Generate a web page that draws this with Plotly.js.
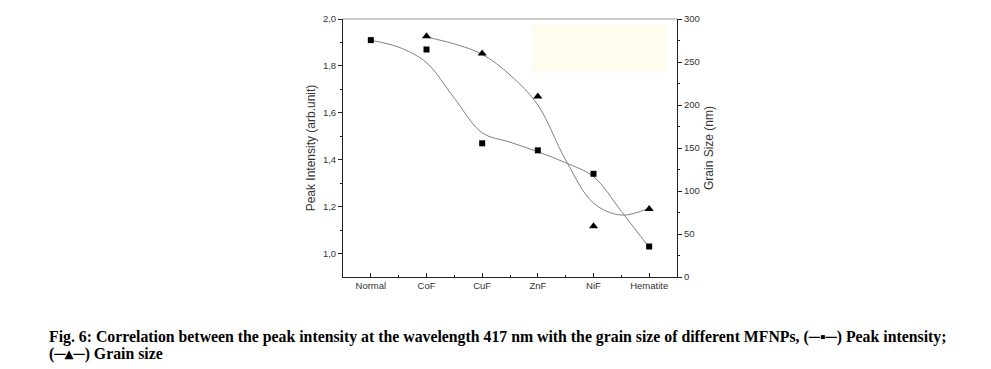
<!DOCTYPE html>
<html>
<head>
<meta charset="utf-8">
<script src="https://cdn.plot.ly/plotly-3.0.1.min.js"></script>
<style>
html,body{margin:0;padding:0;background:#fff;}
#chart{width:991px;height:369px;}
</style>
</head>
<body>
<div id="chart"></div>
<script>
// ---- data ----
var categories = ["Normal", "CoF", "CuF", "ZnF", "NiF", "Hematite"];
var peakIntensity = [1.91, 1.87, 1.47, 1.44, 1.34, 1.03];
var grainSize = [null, 280, 260, 210, 59, 79];
// smoothed curves as drawn in the figure (read at half-category steps)
var intensityFitX = [0, 0.5, 1, 1.5, 2, 2.5, 3, 3.5, 4, 4.5, 5];
var intensityFit  = [1.909, 1.880, 1.814, 1.662, 1.515, 1.475, 1.434, 1.387, 1.328, 1.180, 1.026];
var grainFitX = [1, 1.5, 2, 2.5, 3, 3.5, 4, 4.5, 5];
var grainFit  = [279, 271, 259, 235, 200, 136, 86, 72, 80];
var leftTicks = [1.0, 1.2, 1.4, 1.6, 1.8, 2.0];
var rightTicks = [0, 50, 100, 150, 200, 250, 300];

var idx = categories.map(function(c, i){ return i; });

var traces = [
  {x: intensityFitX, y: intensityFit, mode: 'lines', line: {color: '#808080', width: 1, shape: 'spline', smoothing: 1}, yaxis: 'y', hoverinfo: 'skip'},
  {x: grainFitX, y: grainFit, mode: 'lines', line: {color: '#808080', width: 1, shape: 'spline', smoothing: 1}, yaxis: 'y2', hoverinfo: 'skip'},
  {x: idx, y: peakIntensity, mode: 'markers', marker: {symbol: 'square', size: 6, color: '#000'}, yaxis: 'y'},
  {x: idx, y: grainSize, mode: 'markers', marker: {symbol: 'triangle-up', size: 8, color: '#000'}, yaxis: 'y2'}
];

var tickFont = {family: 'Arial, Liberation Sans, sans-serif', size: 9.5, color: '#333'};
var titleFont = {family: 'Arial, Liberation Sans, sans-serif', size: 12, color: '#333'};

var layout = {
  width: 991, height: 369,
  margin: {l: 343, r: 314, t: 19, b: 92, pad: 0},
  paper_bgcolor: '#fff', plot_bgcolor: '#fff',
  showlegend: false,
  separators: ', ',
  xaxis: {
    range: [-0.5, 5.5], tickmode: 'array', tickvals: idx, ticktext: categories,
    ticks: 'inside', ticklen: 4, tickcolor: '#222', tickwidth: 1,
    minor: {tickmode: 'array', tickvals: [0.5, 1.5, 2.5, 3.5, 4.5], ticks: 'inside', ticklen: 2, tickcolor: '#222'},
    showline: true, linecolor: '#222', linewidth: 1, showgrid: false, zeroline: false,
    tickfont: tickFont, fixedrange: true
  },
  yaxis: {
    range: [0.9, 2.0], tickmode: 'array', tickvals: leftTicks, tickformat: '.1f',
    ticks: 'outside', ticklen: 4, tickcolor: '#222',
    minor: {tickmode: 'array', tickvals: [1.1, 1.3, 1.5, 1.7, 1.9], ticks: 'outside', ticklen: 2, tickcolor: '#222'},
    showline: true, linecolor: '#222', linewidth: 1, showgrid: false, zeroline: false,
    tickfont: tickFont,
    title: {text: 'Peak Intensity (arb.unit)', font: titleFont, standoff: 4}
  },
  yaxis2: {
    overlaying: 'y', side: 'right', range: [0, 300], tickmode: 'array', tickvals: rightTicks,
    ticks: 'outside', ticklen: 4, tickcolor: '#222',
    minor: {tickmode: 'array', tickvals: [25, 75, 125, 175, 225, 275], ticks: 'outside', ticklen: 2, tickcolor: '#222'},
    showline: true, linecolor: '#222', linewidth: 1, showgrid: false, zeroline: false,
    tickfont: tickFont,
    title: {text: 'Grain Size (nm)', font: titleFont, standoff: 5}
  },
  shapes: [
    {type: 'rect', xref: 'paper', yref: 'paper', x0: 0.565, x1: 0.967, y0: 0.792, y1: 0.983, fillcolor: '#fefdf0', line: {width: 0}, layer: 'below'},
    {type: 'line', xref: 'paper', yref: 'paper', x0: 0, x1: 1, y0: 1, y1: 1, line: {color: '#999', width: 1}}
  ],
  annotations: [
    {xref: 'paper', yref: 'paper', x: (47-343)/334, y: -(337-277)/258, xanchor: 'left', yanchor: 'middle', showarrow: false,
     text: '<b>Fig. 6: Correlation between the peak intensity at the wavelength 417 nm with the grain size of different MFNPs, (\u2500\u25aa\u2500) Peak intensity;</b>',
     font: {family: 'Liberation Serif, Times New Roman, serif', size: 15.8, color: '#000'}},
    {xref: 'paper', yref: 'paper', x: (47-343)/334, y: -(354-277)/258, xanchor: 'left', yanchor: 'middle', showarrow: false,
     text: '<b>(\u2500\u25b4\u2500) Grain size</b>',
     font: {family: 'Liberation Serif, Times New Roman, serif', size: 15.8, color: '#000'}}
  ]
};

Plotly.newPlot('chart', traces, layout, {staticPlot: true, displayModeBar: false});
</script>
</body>
</html>
